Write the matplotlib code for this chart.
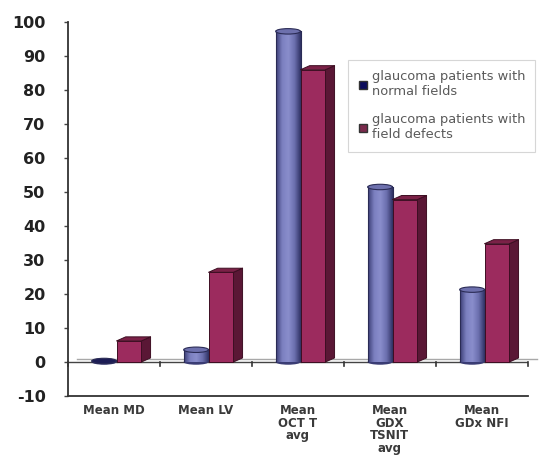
import numpy as np
import matplotlib.pyplot as plt
from matplotlib.patches import Polygon, Ellipse
from matplotlib.colors import LinearSegmentedColormap
from matplotlib.lines import Line2D

plt.rcParams['font.family'] = ['DejaVu Sans']

categories = ['Mean MD', 'Mean LV', 'Mean\nOCT T\navg', 'Mean\nGDX\nTSNIT\navg', 'Mean\nGDx NFI']
normal_fields = [0.3, 3.6, 97.3, 51.5, 21.3]
field_defects = [6.2, 26.4, 86.0, 47.8, 34.8]
series_names = ['glaucoma patients with\nnormal fields', 'glaucoma patients with\nfield defects']
yticks = list(range(-10, 101, 10))

# fake 3D geometry (x in category units, y in data units)
bar_w = 0.27
depth_x = 0.10
depth_y = 1.2
ell_h = 1.6

cyl_cmap = LinearSegmentedColormap.from_list(
    'cyl', ['#3c3e76', '#7c80c0', '#8a8ecc', '#6b6fae', '#2e3062'])
front_c, side_c, top_c, edge_c = '#9c2b5e', '#5a1735', '#7b2147', '#3d0e22'

fig = plt.figure(figsize=(5.6, 4.57), dpi=100)
ax = fig.add_axes([0.121, 0.1335, 0.8214, 0.818])


def cylinder(x0, v):
    x1 = x0 + bar_w
    xc = (x0 + x1) / 2
    grad = np.linspace(0, 1, 128).reshape(1, -1)
    ax.imshow(grad, cmap=cyl_cmap, extent=[x0, x1, 0, v], aspect='auto',
              interpolation='bicubic', zorder=2)
    ax.add_patch(Ellipse((xc, 0), bar_w, ell_h, facecolor='#3a3c74',
                         edgecolor='none', zorder=1.9))
    ax.plot([x0, x0], [0, v], color='#2a2b55', lw=0.8, zorder=2.1)
    ax.plot([x1, x1], [0, v], color='#2a2b55', lw=0.8, zorder=2.1)
    top = '#1c1c55' if v < 1 else '#6d70ad'
    ax.add_patch(Ellipse((xc, v), bar_w, ell_h, facecolor=top,
                         edgecolor='#2a2b55', lw=0.8, zorder=2.2))


def box(x0, v):
    x1 = x0 + bar_w
    kw = dict(edgecolor=edge_c, lw=0.7, zorder=3, joinstyle='round')
    ax.add_patch(Polygon([(x1, 0), (x1 + depth_x, depth_y), (x1 + depth_x, v + depth_y), (x1, v)],
                         facecolor=side_c, **kw))
    ax.add_patch(Polygon([(x0, v), (x0 + depth_x, v + depth_y), (x1 + depth_x, v + depth_y), (x1, v)],
                         facecolor=top_c, **kw))
    ax.add_patch(Polygon([(x0, 0), (x1, 0), (x1, v), (x0, v)], facecolor=front_c, **kw))


# floor at zero
ax.plot([0.1, 5.1], [1.0, 1.0], color='#a8a8a8', lw=1.0, zorder=1, clip_on=False)
ax.plot([0, 5], [0, 0], color='#444444', lw=1.0, zorder=1)
for k in range(0, 6):
    ax.plot([k, k], [0, -1.3], color='#333333', lw=1.2, zorder=1, clip_on=False)

for i, (a, b) in enumerate(zip(normal_fields, field_defects)):
    cylinder(i + 0.26, a)
    box(i + 0.26 + bar_w, b)

ax.set_xlim(0, 5)
ax.set_ylim(-10, 100)
ax.set_yticks(yticks)
ax.set_yticklabels([str(t) for t in yticks], fontsize=11.5, fontweight='bold', color='#222222')
ax.set_xticks([i + 0.5 for i in range(5)])
ax.set_xticklabels(categories, fontsize=8.5, fontweight='bold', color='#3a3a3a', linespacing=0.95)
ax.tick_params(axis='x', length=0, pad=6)
ax.tick_params(axis='y', length=3, width=1, color='#444444', pad=13)
ax.spines[['top', 'right']].set_visible(False)
ax.spines[['left', 'bottom']].set_color('#333333')
ax.spines[['left', 'bottom']].set_linewidth(1.3)

handles = [Line2D([], [], marker='s', ls='none', markersize=6, markerfacecolor='#0c0c5c',
                  markeredgecolor='#333333'),
           Line2D([], [], marker='s', ls='none', markersize=6, markerfacecolor='#7a2a4c',
                  markeredgecolor='#333333')]
leg = fig.legend(handles, series_names, loc='upper left', bbox_to_anchor=(348 / 560, 1 - 60 / 457),
                 fontsize=9.4, labelcolor='#5a5a5a', frameon=True, fancybox=False,
                 edgecolor='#cccccc', handlelength=0.7, handletextpad=0.3,
                 labelspacing=1.15, borderpad=0.8, borderaxespad=0)
leg.get_frame().set_linewidth(0.8)

fig.savefig('out.png', dpi=100, facecolor='white')
